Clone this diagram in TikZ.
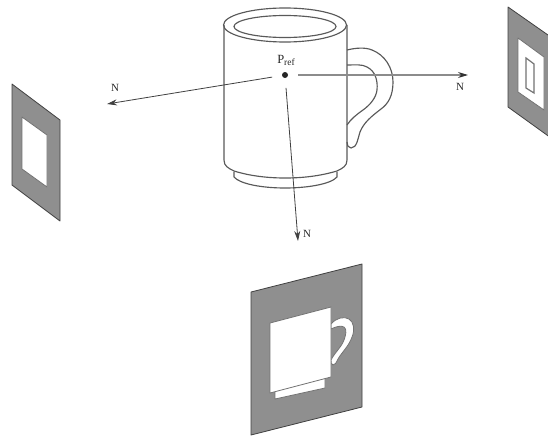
\documentclass[tikz,border=0pt]{standalone}
\usepackage{fontspec}
\setmainfont{Liberation Serif}
\usetikzlibrary{arrows.meta}
\tikzset{
  panel/.style={fill=panelgray,draw=black!75,line width=0.8pt,line join=round},
  cutout/.style={fill=white,draw=black!55,line width=0.8pt,line join=round},
  mugline/.style={draw=black!65,line width=1.15pt,line join=round},
  normal/.style={draw=black!75,line width=0.8pt,-{Stealth[length=10pt,width=6pt]},shorten <=13pt},
  lab/.style={font=\fontsize{11pt}{12pt}\selectfont,text=black!85,inner sep=0pt},
  dotmark/.style={circle,fill=black!85,inner sep=0pt,minimum size=6pt}
}
\definecolor{panelgray}{gray}{0.56}
\begin{document}
\begin{tikzpicture}[x=1pt,y=-1pt]
\useasboundingbox (0,0) rectangle (548,436);
% left panel
\path[panel] (12,84) -- (60,120) -- (60,221) -- (12,185) -- cycle;
\path[cutout] (22,117) -- (47,135) -- (47,187) -- (22,169) -- cycle;
% right panel
\begin{scope}
\clip (0,0) rectangle (548,436);
\path[panel] (508,7) -- (558,42) -- (558,143) -- (508,107) -- cycle;
\path[cutout] (518,38) -- (544,57) -- (544,110) -- (518,92) -- cycle;
\path[draw=black!55,fill=white,line width=1.2pt] (526,58) -- (534,64) -- (534,93) -- (526,88) -- cycle;
\end{scope}
% bottom panel
\path[panel] (251,292) -- (362,264) -- (362,407) -- (251,435) -- cycle;
\path[cutout] (275,390) -- (275,399) -- (325,388) -- (325,378) -- cycle;
\path[cutout] (331,324) .. controls (336,318) and (344,316) .. (349,319)
  .. controls (354,322) and (355,330) .. (352,337)
  .. controls (349,346) and (342,352) .. (338,359)
  .. controls (336,363) and (335,365) .. (333,365)
  .. controls (331,365) and (331,362) .. (331,360)
  .. controls (335,352) and (341,348) .. (344,340)
  .. controls (346,335) and (347,329) .. (344,327)
  .. controls (341,325) and (335,327) .. (331,329) -- cycle;
\path[cutout] (270,323) -- (331,307) -- (331,377) -- (270,393) -- cycle;
% mug
\path[mugline] (234,172) -- (234,177) .. controls (240,184) and (262,188) .. (285,188)
  .. controls (308,188) and (331,184) .. (337,177) -- (337,172);
\path[mugline] (347,50) .. controls (355,48) and (365,47) .. (372,50)
  .. controls (385,55) and (393,68) .. (393,82)
  .. controls (393,96) and (388,104) .. (381,109)
  .. controls (372,116) and (364,122) .. (360,132)
  .. controls (358,138) and (357,148) .. (351,148)
  .. controls (348,148) and (347,145) .. (347,142);
\path[mugline] (347,65) .. controls (355,65) and (362,64) .. (367,67)
  .. controls (375,71) and (378,80) .. (377,90)
  .. controls (376,98) and (370,105) .. (363,110)
  .. controls (356,115) and (351,119) .. (347,125);
\path[mugline] (224,25) -- (224,160) .. controls (224,166) and (228,168) .. (234,171)
  .. controls (250,176) and (268,178) .. (285,178)
  .. controls (303,178) and (320,176) .. (337,171)
  .. controls (343,168) and (347,166) .. (347,160) -- (347,25);
\draw[mugline] (285,25) ellipse [x radius=61.5,y radius=17];
\draw[mugline] (285,26.5) ellipse [x radius=51,y radius=11];
% point and normals
\node[dotmark] (p) at (285,75) {};
\node[lab,font=\fontsize{12.5pt}{14pt}\selectfont] (pl) at (286,60.5) {P\raisebox{-2.5pt}{\fontsize{9.5pt}{10pt}\selectfont ref}};
\coordinate (tl) at (107,104);
\coordinate (tr) at (468,75);
\coordinate (td) at (298,241);
\draw[normal] (p.center) -- (tl);
\draw[normal,draw=black!45,line width=1.1pt,arrows={-{Stealth[length=10pt,width=6pt,black!80]}}] (p.center) -- (tr);
\draw[normal] (p.center) -- (td);
\node[lab] (nl) at (115,88) {N};
\node[lab] (nr) at (460,87) {N};
\node[lab] (nd) at (307,234) {N};
\end{tikzpicture}
\end{document}
